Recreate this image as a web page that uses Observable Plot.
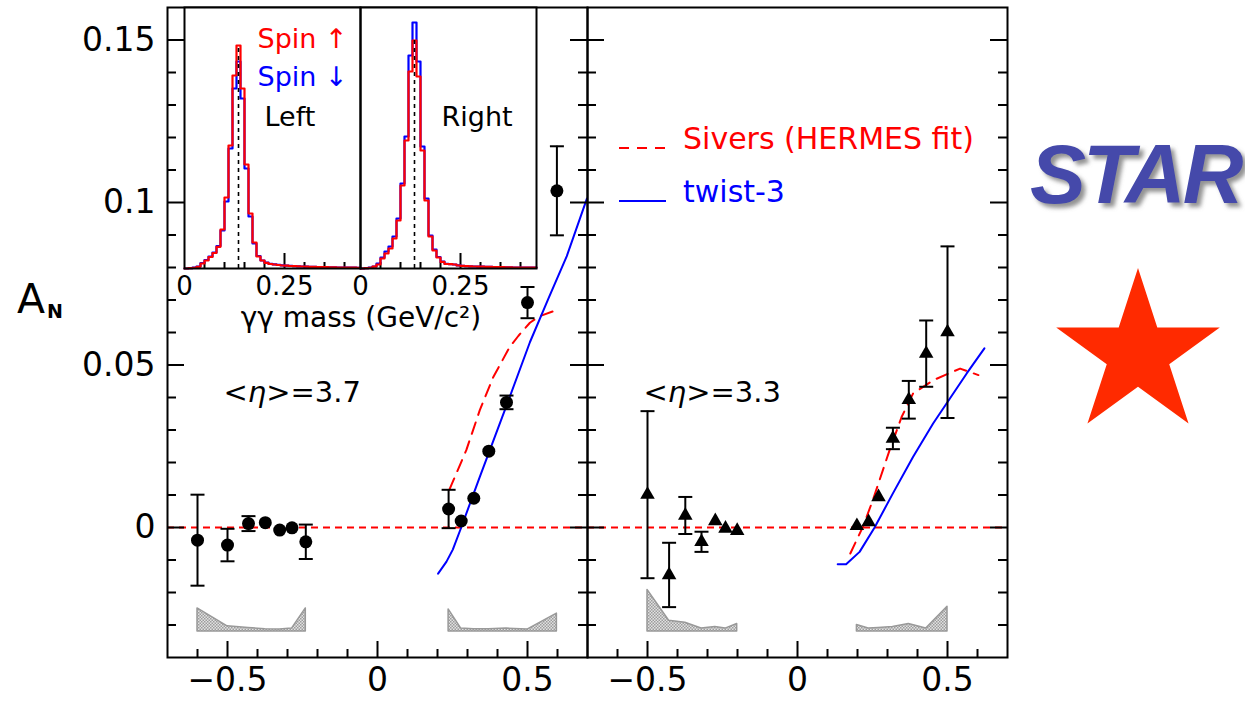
<!DOCTYPE html>
<html><head><meta charset="utf-8">
<script src="https://cdn.jsdelivr.net/npm/d3@7"></script>
<script src="https://cdn.jsdelivr.net/npm/@observablehq/plot@0.6"></script>
<style>
html,body{margin:0;padding:0;background:#fff;overflow:hidden;}
#wrap{position:relative;width:1245px;height:702px;font-family:"DejaVu Sans",sans-serif;}
#wrap > svg{position:absolute;left:0;top:0;}
</style></head><body><div id="wrap"></div>
<script>
// ---------------- data ----------------
const panelKeys = ["3.7", "3.3"];
const etaLabels = ["<η>=3.7", "<η>=3.3"];

// <eta>=3.7 (circles): xF, A_N, stat. error, systematic band top
const xF37  = [-0.600,-0.500,-0.430,-0.374,-0.326,-0.285,-0.239, 0.237,0.279,0.321,0.371,0.430,0.500,0.598];
const aN37  = [-0.0039,-0.0054,0.0012,0.0015,-0.0008,-0.0001,-0.0044, 0.0057,0.0020,0.0090,0.0235,0.0385,0.0692,0.1036];
const err37 = [0.0140,0.0050,0.0023,0.0012,0.0012,0.0012,0.0053, 0.0059,0.0013,0.0013,0.0014,0.0021,0.0048,0.0137];
const sys37 = [-0.0249,-0.0304,-0.0309,-0.0313,-0.0314,-0.0311,-0.0249, -0.0252,-0.0311,-0.0313,-0.0313,-0.0311,-0.0314,-0.0265];

// <eta>=3.3 (triangles)
const xF33  = [-0.500,-0.428,-0.374,-0.320,-0.274,-0.240,-0.201, 0.198,0.237,0.270,0.318,0.371,0.429,0.500];
const aN33  = [0.0101,-0.0146,0.0037,-0.0044,0.0020,-0.0003,-0.0010, 0.0005,0.0017,0.0094,0.0274,0.0393,0.0535,0.0601];
const err33 = [0.0257,0.0099,0.0057,0.0031,0.0012,0.0012,0.0012, 0.0012,0.0012,0.0015,0.0033,0.0058,0.0102,0.0264];
const sys33 = [-0.0192,-0.0287,-0.0293,-0.0311,-0.0306,-0.0311,-0.0297, -0.0300,-0.0311,-0.0309,-0.0306,-0.0297,-0.0311,-0.0244];
const sysBase = -0.032;

// Sivers (HERMES fit) curves
const sivX37 = [0.240,0.296,0.341,0.386,0.441,0.470,0.508,0.540,0.603];
const sivY37 = [0.0117,0.0238,0.0361,0.0463,0.0556,0.0590,0.0630,0.0650,0.0671];
const sivX33 = [0.176,0.218,0.251,0.307,0.347,0.385,0.452,0.542,0.603];
const sivY33 = [-0.0080,0.0002,0.0084,0.0238,0.0340,0.0412,0.0453,0.0489,0.0469];
// twist-3 curves
const twX37 = [0.202,0.230,0.251,0.279,0.341,0.430,0.508,0.570,0.631,0.698];
const twY37 = [-0.0142,-0.0105,-0.0068,0.0000,0.0156,0.0375,0.0570,0.0705,0.0835,0.1012];
const twX33 = [0.134,0.162,0.207,0.257,0.318,0.385,0.452,0.508,0.564,0.623];
const twY33 = [-0.0113,-0.0113,-0.0075,0.0000,0.0105,0.0217,0.0320,0.0397,0.0474,0.0551];

// inset: gamma-gamma mass histograms (0.01 GeV bins from 0), arbitrary counts
const binWidth = 0.01;
const histLeftUp   = [0,0.3,0.7,1.7,5,8,11.5,15.5,21.7,39, 71,123,193,223,180,104,55,26,12,8, 5.6,4.5,4,3.5,3,2.8,2.5,2.3,2.2,2, 1.8,1.7,1.6,1.5,1.4,1.3,1.2,1.1,1,1, 0.9,0.8,0.8,0.7];
const histLeftDown = [0,0.3,0.8,2,5.5,8.5,12,16,22.5,38, 67,120,180,207,170,100,52,25,12.5,8, 5.8,4.6,4.1,3.6,3.1,2.8,2.6,2.4,2.2,2, 1.9,1.7,1.6,1.5,1.4,1.3,1.2,1.1,1,1, 0.9,0.9,0.8,0.7];
const histRightUp  = [0,0.3,0.7,1.8,4,10,15,20,30,48, 83,128,197,228,192,118,68,32,18,11, 6.6,4.5,4.3,4,3,2.6,2.3,2.1,2,1.9, 1.8,1.7,1.6,1.5,1.4,1.3,1.2,1.1,1,1, 0.9,0.9,0.8,0.8];
const histRightDown= [0,0.3,0.8,2,5,11,17,22,32,50, 85,132,213,246,207,122,70,33,19,11.5, 6.8,4.7,4.4,4,3.1,2.7,2.4,2.2,2,1.9, 1.8,1.7,1.6,1.5,1.4,1.3,1.2,1.1,1,1, 0.9,0.9,0.8,0.8];
const pi0Mass = 0.135;
const insetSides = ["Left", "Right"];
const spinUpLabel = "Spin ↑", spinDownLabel = "Spin ↓";

// axis ticks
const yTickLabels = [0, 0.05, 0.1, 0.15];
const xTickLabels = [-0.5, 0, 0.5];

// ---------------- build tables ----------------
function pts(panel, xs, ys, es, ss) {
  return xs.map((x, i) => ({panel, x, y: ys[i], e: es[i], top: ss[i], side: x < 0 ? "neg" : "pos"}));
}
const P37 = pts("3.7", xF37, aN37, err37, sys37);
const P33 = pts("3.3", xF33, aN33, err33, sys33);
const allPts = P37.concat(P33);
const errPts = allPts.filter(d => d.e > 0.0018);
const curve = (panel, xs, ys) => xs.map((x, i) => ({panel, x, y: ys[i]}));
const sivRows = curve("3.7", sivX37, sivY37).concat(curve("3.3", sivX33, sivY33));
const twRows = curve("3.7", twX37, twY37).concat(curve("3.3", twX33, twY33));
const etaRows = panelKeys.map((p, i) => ({panel: p, label: etaLabels[i]}));

const yAll = d3.range(-3, 16).map(i => ({v: i / 100, major: i % 5 === 0}));
const xAll = d3.range(-6, 7).map(i => ({v: i / 10, major: i % 5 === 0}));

const fmt = d => d < 0 ? "\u2212" + String(-d) : String(d);

// ---------------- main plot ----------------
const W = 1245, H = 702, mL = 167, mR = 238, mT = 7, mB = 45;
const panelW = (W - mL - mR) / 2, plotH = H - mT - mB;
const cap = {draw(ctx, size) { const w = Math.sqrt(size / Math.PI); ctx.moveTo(-w, 0); ctx.lineTo(w, 0); }};
const black = "black";

const main = Plot.plot({
  width: W, height: H, marginLeft: mL, marginRight: mR, marginTop: mT, marginBottom: mB,
  style: "background: white; font-family: 'DejaVu Sans', sans-serif; color: black;",
  fx: {domain: panelKeys, padding: 0, axis: null},
  x: {domain: [-0.7, 0.7]},
  y: {domain: [-0.04, 0.16]},
  marks: [
    Plot.ruleY([0], {stroke: "#ff0000", strokeWidth: 2, strokeDasharray: "7,5"}),
    Plot.areaY(allPts, {fx: "panel", x: "x", y1: sysBase, y2: "top", z: "side", fill: "url(#hatch)", stroke: "#999", strokeWidth: 1.5}),
    Plot.line(sivRows, {fx: "panel", x: "x", y: "y", stroke: "#ff0000", strokeWidth: 2, strokeDasharray: "12,8"}),
    Plot.line(twRows, {fx: "panel", x: "x", y: "y", stroke: "#0000ff", strokeWidth: 2}),
    Plot.ruleX(errPts, {fx: "panel", x: "x", y1: d => d.y - d.e, y2: d => d.y + d.e, stroke: black, strokeWidth: 2}),
    Plot.dot(errPts, {fx: "panel", x: "x", y: d => d.y - d.e, symbol: cap, r: 7, fill: "none", stroke: black, strokeWidth: 2}),
    Plot.dot(errPts, {fx: "panel", x: "x", y: d => d.y + d.e, symbol: cap, r: 7, fill: "none", stroke: black, strokeWidth: 2}),
    Plot.dot(P37, {fx: "panel", x: "x", y: "y", symbol: "circle", r: 6.5, fill: black, stroke: "none"}),
    Plot.dot(P33, {fx: "panel", x: "x", y: "y", symbol: "triangle", r: 5.4, fill: black, stroke: "none"}),
    // inward ticks
    Plot.tickY(yAll, {y: "v", stroke: black, strokeWidth: 2, insetRight: panelW - 9, filter: d => !d.major}),
    Plot.tickY(yAll, {y: "v", stroke: black, strokeWidth: 2, insetRight: panelW - 17, filter: d => d.major}),
    Plot.tickY(yAll, {y: "v", stroke: black, strokeWidth: 2, insetLeft: panelW - 9, filter: d => !d.major}),
    Plot.tickY(yAll, {y: "v", stroke: black, strokeWidth: 2, insetLeft: panelW - 17, filter: d => d.major}),
    Plot.tickX(xAll, {x: "v", stroke: black, strokeWidth: 2, insetTop: plotH - 8, filter: d => !d.major}),
    Plot.tickX(xAll, {x: "v", stroke: black, strokeWidth: 2, insetTop: plotH - 16, filter: d => d.major}),
    Plot.frame({stroke: black, strokeWidth: 2}),
    Plot.axisY({ticks: yTickLabels, tickSize: 0, tickPadding: 12, fontSize: 33, tickFormat: fmt, label: null}),
    Plot.axisX({ticks: xTickLabels, tickSize: 0, tickPadding: 10, fontSize: 33, tickFormat: fmt, label: null}),
    Plot.text(etaRows, {fx: "panel", text: "label", frameAnchor: "top-left", dx: 56, dy: 394, lineAnchor: "bottom", textAnchor: "start", fontSize: 29, fill: black})
  ]
});
main.insertAdjacentHTML("afterbegin",
  '<defs><pattern id="hatch" width="3" height="3" patternUnits="userSpaceOnUse">' +
  '<rect width="3" height="3" fill="#e2e2e2"/><rect width="1.5" height="1.5" fill="#9c9c9c"/>' +
  '<rect x="1.5" y="1.5" width="1.5" height="1.5" fill="#9c9c9c"/></pattern></defs>');
// italic eta
main.querySelectorAll("text").forEach(t => {
  if (t.textContent.includes("η") && t.children.length === 0) {
    const parts = t.textContent.split("η");
    t.textContent = "";
    const ns = "http://www.w3.org/2000/svg";
    const a = document.createElementNS(ns, "tspan"); a.textContent = parts[0];
    const b = document.createElementNS(ns, "tspan"); b.textContent = "η"; b.setAttribute("font-style", "italic");
    const c = document.createElementNS(ns, "tspan"); c.textContent = parts[1];
    t.append(a, b, c);
  }
});
document.getElementById("wrap").appendChild(main);

// ---------------- inset ----------------
const histRows = [];
function addHist(side, spin, arr) {
  arr.forEach((h, i) => histRows.push({side, spin, x: i * binWidth, h}));
  histRows.push({side, spin, x: arr.length * binWidth, h: arr[arr.length - 1]});
}
addHist("Left", "down", histLeftDown); addHist("Left", "up", histLeftUp);
addHist("Right", "down", histRightDown); addHist("Right", "up", histRightUp);
const peakRows = [
  {side: "Left", top: d3.max(histLeftUp)},
  {side: "Right", top: d3.max(histRightUp)}
];
const insetTicks = d3.range(1, 9).map(i => ({v: i * 0.05, major: i === 5}));
const iH = 360, iL = 183, iR = 536, iB = 268;
const txt = {frameAnchor: "top-left", lineAnchor: "bottom", textAnchor: "start", fontSize: 27};
const inset = Plot.plot({
  width: W, height: iH, marginLeft: iL, marginRight: W - iR, marginTop: mT, marginBottom: iH - iB,
  style: "background: transparent; font-family: 'DejaVu Sans', sans-serif; color: black;",
  fx: {domain: insetSides, padding: 0, axis: null},
  x: {domain: [0, 0.44]},
  y: {domain: [0, iB - mT], axis: null},
  marks: [
    Plot.frame({fill: "white", stroke: "none"}),
    Plot.tickX(insetTicks, {x: "v", stroke: black, strokeWidth: 2, insetTop: iB - mT - 6, filter: d => !d.major}),
    Plot.tickX(insetTicks, {x: "v", stroke: black, strokeWidth: 2, insetTop: iB - mT - 15, filter: d => d.major}),
    Plot.line(histRows.filter(d => d.spin === "down"), {fx: "side", x: "x", y: "h", curve: "step-after", stroke: "#0000ff", strokeWidth: 2.2}),
    Plot.line(histRows.filter(d => d.spin === "up"), {fx: "side", x: "x", y: "h", curve: "step-after", stroke: "#ff0000", strokeWidth: 2.2}),
    Plot.ruleX(peakRows, {fx: "side", x: pi0Mass, y1: 0, y2: "top", stroke: black, strokeWidth: 1.6, strokeDasharray: "4,4"}),
    Plot.frame({stroke: black, strokeWidth: 2}),
    Plot.axisX({ticks: [0, 0.25], tickSize: 0, tickPadding: 8, fontSize: 26, tickFormat: d => String(d), label: null}),
    Plot.text([{side: "Left", t: spinUpLabel}], {...txt, fx: "side", text: "t", fill: "#ff0000", dx: 73, dy: 40}),
    Plot.text([{side: "Left", t: spinDownLabel}], {...txt, fx: "side", text: "t", fill: "#0000ff", dx: 73, dy: 78}),
    Plot.text([{side: "Left", t: insetSides[0]}], {...txt, fx: "side", text: "t", fill: black, dx: 80, dy: 118}),
    Plot.text([{side: "Right", t: insetSides[1]}], {...txt, fx: "side", text: "t", fill: black, dx: 81, dy: 118})
  ]
});
document.getElementById("wrap").appendChild(inset);

// ---------------- overlay (axis title, legend, logo) ----------------
const ov = d3.select("#wrap").append("svg").attr("width", W).attr("height", H)
  .style("font-family", "'DejaVu Sans', sans-serif");
const defs = ov.append("defs");
const f = defs.append("filter").attr("id", "shadow").attr("x", "-10%").attr("y", "-10%").attr("width", "130%").attr("height", "140%");
f.append("feDropShadow").attr("dx", 4).attr("dy", 4).attr("stdDeviation", 2.2).attr("flood-color", "#777").attr("flood-opacity", 0.8);

const an = ov.append("text").attr("x", 17).attr("y", 313).attr("font-size", 41).attr("fill", "black");
an.append("tspan").text("A");
an.append("tspan").text("N").attr("font-size", 19).attr("font-weight", "bold").attr("dx", 2).attr("dy", 5);

ov.append("text").attr("x", 361).attr("y", 327).attr("text-anchor", "middle").attr("font-size", 28).attr("fill", "black")
  .text("γγ mass (GeV/c²)");

ov.append("line").attr("x1", 619).attr("x2", 666).attr("y1", 148).attr("y2", 148)
  .attr("stroke", "#ff0000").attr("stroke-width", 2).attr("stroke-dasharray", "10,8");
ov.append("text").attr("x", 683).attr("y", 149).attr("font-size", 30).attr("fill", "#ff0000").text("Sivers (HERMES fit)");
ov.append("line").attr("x1", 619).attr("x2", 666).attr("y1", 201).attr("y2", 201)
  .attr("stroke", "#0000ff").attr("stroke-width", 2);
ov.append("text").attr("x", 683).attr("y", 202).attr("font-size", 30).attr("fill", "#0000ff").text("twist-3");

ov.append("text").attr("x", 1030).attr("y", 203).attr("font-family", "'Liberation Sans', Arial, sans-serif")
  .attr("font-weight", "bold").attr("font-style", "italic").attr("font-size", 84).attr("letter-spacing", -3)
  .attr("fill", "#444aaa").attr("filter", "url(#shadow)").text("STAR");
ov.append("path").attr("d", d3.symbol(d3.symbolStar, 86 * 86 / 0.8908130915292852)())
  .attr("transform", "translate(1138,354)").attr("fill", "#ff2a00");
</script></body></html>
